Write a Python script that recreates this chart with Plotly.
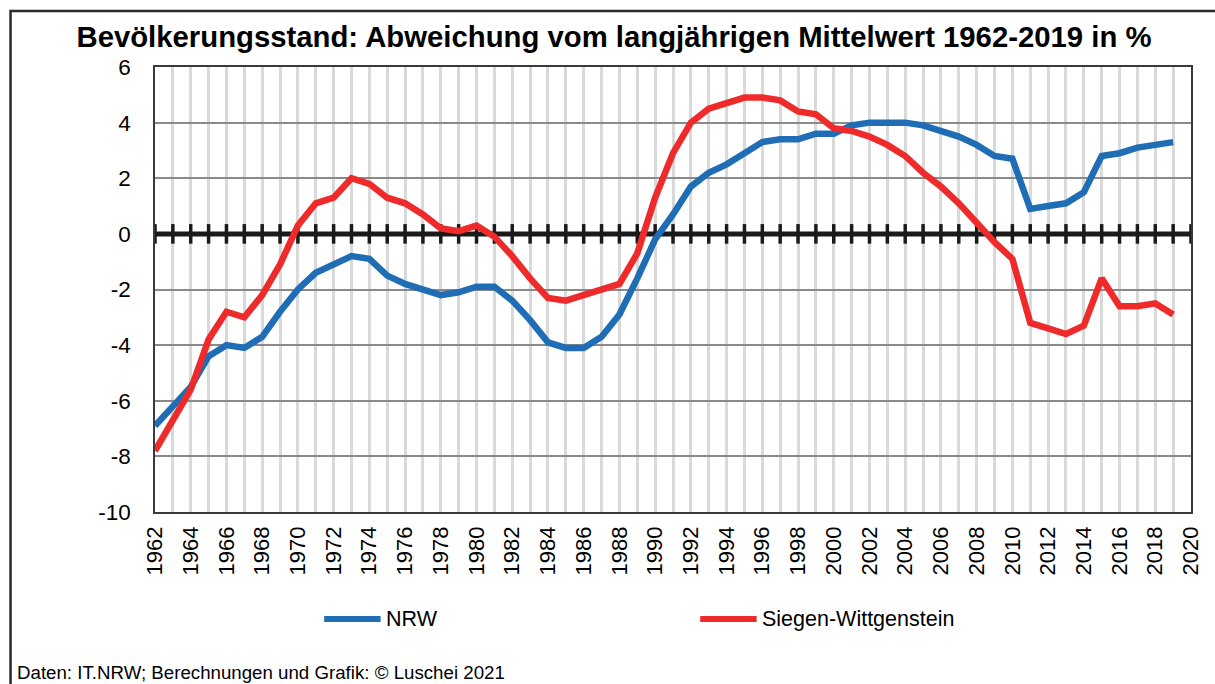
import plotly.graph_objects as go

years = list(range(1962, 2020))
nrw = [-6.9, -6.2, -5.5, -4.4, -4.0, -4.1, -3.7, -2.8,
       -2.0, -1.4, -1.1, -0.8, -0.9, -1.5, -1.8, -2.0, -2.2, -2.1,
       -1.9, -1.9, -2.4, -3.1, -3.9, -4.1, -4.1, -3.7, -2.9, -1.6,
       -0.2, 0.7, 1.7, 2.2, 2.5, 2.9, 3.3, 3.4, 3.4, 3.6,
       3.6, 3.9, 4.0, 4.0, 4.0, 3.9, 3.7, 3.5, 3.2, 2.8,
       2.7, 0.9, 1.0, 1.1, 1.5, 2.8, 2.9, 3.1, 3.2, 3.3]
siegen = [-7.8, -6.7, -5.6, -3.8, -2.8, -3.0, -2.2, -1.1,
          0.3, 1.1, 1.3, 2.0, 1.8, 1.3, 1.1, 0.7, 0.2, 0.1,
          0.3, -0.1, -0.8, -1.6, -2.3, -2.4, -2.2, -2.0, -1.8, -0.7,
          1.3, 2.9, 4.0, 4.5, 4.7, 4.9, 4.9, 4.8, 4.4, 4.3,
          3.8, 3.7, 3.5, 3.2, 2.8, 2.2, 1.7, 1.1, 0.4, -0.3,
          -0.9, -3.2, -3.4, -3.6, -3.3, -1.6, -2.6, -2.6, -2.5, -2.9]
axis_years = list(range(1962, 2021))
y_ticks = [-10, -8, -6, -4, -2, 0, 2, 4, 6]
y_tick_labels = ["-10", "-8", "-6", "-4", "-2", "0", "2", "4", "6"]
series_names = ["NRW", "Siegen-Wittgenstein"]
colors = ["#1F6DB4", "#EE2B2A"]

title_text = "Bevölkerungsstand: Abweichung vom langjährigen Mittelwert 1962-2019 in %"
footer_text = "Daten: IT.NRW; Berechnungen und Grafik: © Luschei 2021"

W, H = 1215, 684
L, R, T, B = 155, 1202, 67, 512
pw, ph = R - L, B - T


def px(x):
    return (x - L) / pw


def py(y):
    return (B - y) / ph


fig = go.Figure()

# zero line with year ticks
fig.add_trace(go.Scatter(
    x=axis_years, y=[0] * len(axis_years), mode="lines+markers",
    line=dict(color="#1a1a1a", width=5),
    marker=dict(symbol="line-ns", size=14, line=dict(color="#1a1a1a", width=3.5)),
    showlegend=False, hoverinfo="skip", cliponaxis=False))

fig.add_trace(go.Scatter(x=years, y=nrw, mode="lines", name=series_names[0],
                         line=dict(color=colors[0], width=6.5), showlegend=False))
fig.add_trace(go.Scatter(x=years, y=siegen, mode="lines", name=series_names[1],
                         line=dict(color=colors[1], width=6.5), showlegend=False))

font_main = "Liberation Sans, Arial, sans-serif"

fig.update_layout(
    width=W, height=H, autosize=False,
    margin=dict(l=L, r=W - R, t=T, b=H - B),
    paper_bgcolor="white", plot_bgcolor="white",
    font=dict(family=font_main, color="black"),
    title=dict(text="<b>" + title_text + "</b>", x=614 / W, xref="container", xanchor="center",
               y=1 - 37 / H, yref="container", yanchor="middle",
               font=dict(size=29.3, family=font_main, color="black")),
    xaxis=dict(range=[1962, 2020], tick0=1962, dtick=2, tickangle=-90,
               showgrid=True, gridcolor="#d9d9d9", gridwidth=2.5,
               minor=dict(dtick=1, tick0=1962, showgrid=True, gridcolor="#d9d9d9", gridwidth=2.5),
               showline=True, linecolor="#3a3a3a", linewidth=1.5, mirror=True,
               ticks="outside", ticklen=4, tickcolor="rgba(0,0,0,0)",
               tickfont=dict(size=22, family=font_main, color="black"),
               zeroline=False, fixedrange=True),
    yaxis=dict(range=[-10, 6], tickvals=y_ticks, ticktext=y_tick_labels,
               showgrid=True, gridcolor="#8a8a8a", gridwidth=2,
               showline=True, linecolor="#3a3a3a", linewidth=1.5, mirror=True,
               ticks="outside", ticklen=18, tickcolor="rgba(0,0,0,0)",
               tickfont=dict(size=22.5, family=font_main, color="black"),
               zeroline=False, fixedrange=True),
)

# outer frame (left and top edges visible)
fig.add_shape(type="rect", xref="paper", yref="paper",
              x0=px(9), x1=px(W + 20), y0=py(H + 20), y1=py(11),
              line=dict(color="#2a2a2a", width=2.5), fillcolor="rgba(0,0,0,0)", layer="above")

# legend (manual)
legend_items = [(326, 383, 386), (706, 763, 766)]
for (x0, x1, tx), name, col in zip(legend_items, series_names, colors):
    fig.add_shape(type="line", xref="paper", yref="paper",
                  x0=px(x0), x1=px(x1), y0=py(619), y1=py(619),
                  line=dict(color=col, width=6))
    fig.add_annotation(text=name, xref="paper", yref="paper", x=px(tx), y=py(619),
                       xanchor="left", yanchor="middle", showarrow=False,
                       font=dict(size=21.5, family=font_main, color="black"))

fig.add_annotation(text=footer_text, xref="paper", yref="paper", x=px(14), y=py(673),
                   xanchor="left", yanchor="middle", showarrow=False,
                   font=dict(size=18.7, family=font_main, color="black"))

fig.write_html("out.html", config={"displayModeBar": False},
               post_script="document.body.style.margin='0';document.body.style.overflow='hidden';")
